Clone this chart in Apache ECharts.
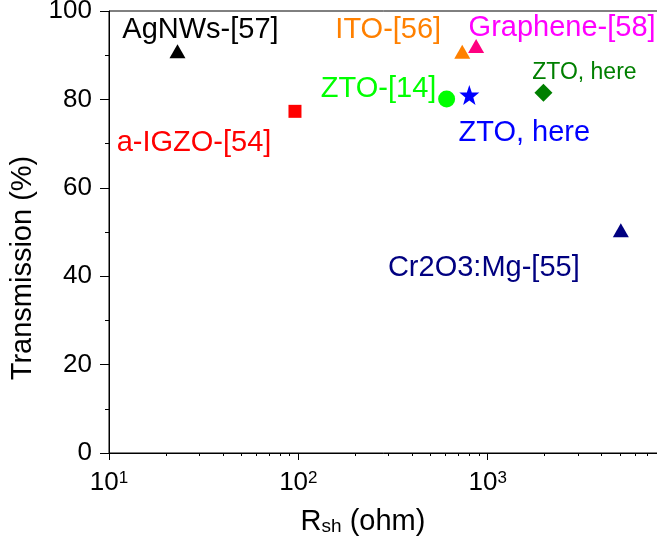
<!DOCTYPE html>
<html>
<head>
<meta charset="utf-8">
<script src="https://cdn.jsdelivr.net/npm/echarts@6/dist/echarts.min.js"></script>
<style>html,body{margin:0;padding:0;background:#fff}#c{width:657px;height:549px}</style>
</head>
<body>
<div id="c"></div>
<script>
// ---- data ----
const labels = ['AgNWs-[57]', 'a-IGZO-[54]', 'ITO-[56]', 'Graphene-[58]', 'ZTO-[14]', 'ZTO, here', 'ZTO, here', 'Cr2O3:Mg-[55]'];
const rsh = [23, 96, 734, 869, 607, 800, 1970, 5050];
const transmission = [90.9, 77.3, 90.8, 92.1, 80.1, 81.0, 81.5, 50.4];
const xTickValues = [10, 100, 1000];
const xMinorTickValues = [20,30,40,50,60,70,80,90,200,300,400,500,600,700,800,900,2000,3000,4000,5000,6000,7000,8000,9000];

// ---- styles ----
const STAR = 'path://M0,-10 L2.35,-3.24 9.51,-3.09 3.8,1.24 5.88,8.09 0,4 -5.88,8.09 -3.8,1.24 -9.51,-3.09 -2.35,-3.24Z';
const styles = [
  {symbol:'triangle', size:[16,14], color:'#000000', label:'#000000', fs:29, off:[23,-21]},
  {symbol:'rect', size:13, color:'#ff0000', label:'#ff0000', fs:29, off:[-101,32]},
  {symbol:'triangle', size:[16,14], color:'#ff8000', label:'#ff8000', fs:29, off:[-74,-22]},
  {symbol:'triangle', size:[16,14], color:'#ff0080', label:'#ff00ff', fs:29, off:[86,-18]},
  {symbol:'circle', size:17, color:'#00ff00', label:'#00ff00', fs:29, off:[-68,-10]},
  {symbol:STAR, size:20, color:'#0000ff', label:'#0000ff', fs:29, off:[55,38]},
  {symbol:'diamond', size:18, color:'#007f00', label:'#007f00', fs:23, off:[41,-20]},
  {symbol:'triangle', size:[16,14], color:'#000080', label:'#000080', fs:29, off:[-137,38]}
];
const FONT = '"Liberation Sans", Arial, sans-serif';

const series = labels.map((name, i) => ({
  type: 'scatter',
  name: name,
  data: [[rsh[i], transmission[i]]],
  symbol: styles[i].symbol,
  symbolSize: styles[i].size,
  itemStyle: {color: styles[i].color, opacity: 1},
  label: {
    show: true,
    position: 'inside',
    offset: styles[i].off,
    formatter: name,
    color: styles[i].label,
    fontSize: styles[i].fs,
    fontFamily: FONT,
    align: 'center',
    verticalAlign: 'middle'
  },
  emphasis: {disabled: true},
  z: 5
}));

const chart = echarts.init(document.getElementById('c'), null, {renderer: 'canvas'});
chart.setOption({
  animation: false,
  textStyle: {fontFamily: FONT, color: '#000'},
  grid: {show: true, borderColor: '#000', borderWidth: 1, left: 109, top: 11, width: 568, bottom: 96,
         containLabel: false, outerBoundsMode: 'none'},
  xAxis: [
    {
      type: 'log', logBase: 10, min: 10, max: 10000, position: 'bottom',
      axisLine: {show: true, onZero: false, lineStyle: {color: '#000', width: 1}},
      axisTick: {show: true, length: 7, customValues: xTickValues, lineStyle: {color: '#000'}},
      minorTick: {show: false},
      splitLine: {show: false},
      axisLabel: {
        customValues: xTickValues,
        color: '#000', fontSize: 26, fontFamily: FONT, margin: 17,
        formatter: v => '10{sup|' + Math.round(Math.log10(v)) + '}',
        rich: {sup: {fontSize: 17, verticalAlign: 'top', fontFamily: FONT, color: '#000'}}
      },
      name: '{r|R}{s|sh}{r| (ohm)}',
      nameLocation: 'middle', nameGap: 54,
      nameTextStyle: {
        padding: [0, 60, 0, 0],
        rich: {
          r: {fontSize: 29, fontFamily: FONT, color: '#000'},
          s: {fontSize: 19, fontFamily: FONT, color: '#000', verticalAlign: 'bottom'}
        }
      }
    },
    {
      type: 'log', logBase: 10, min: 10, max: 10000, position: 'bottom',
      axisLine: {show: false},
      axisTick: {show: true, length: 3, customValues: xMinorTickValues, lineStyle: {color: '#000'}},
      axisLabel: {show: false},
      splitLine: {show: false}
    }
  ],
  yAxis: {
    type: 'value', min: 0, max: 100, interval: 20,
    axisLine: {show: true, onZero: false, lineStyle: {color: '#000', width: 1}},
    axisTick: {show: true, length: 9, lineStyle: {color: '#000'}},
    minorTick: {show: true, splitNumber: 2, length: 4, lineStyle: {color: '#000'}},
    splitLine: {show: false},
    axisLabel: {color: '#000', fontSize: 26, fontFamily: FONT, margin: 17},
    name: 'Transmission (%)',
    nameLocation: 'middle', nameGap: 64,
    nameTextStyle: {fontSize: 29, fontFamily: FONT, color: '#000', padding: [0, 72, 0, 0]}
  },
  series: series
});
</script>
</body>
</html>
